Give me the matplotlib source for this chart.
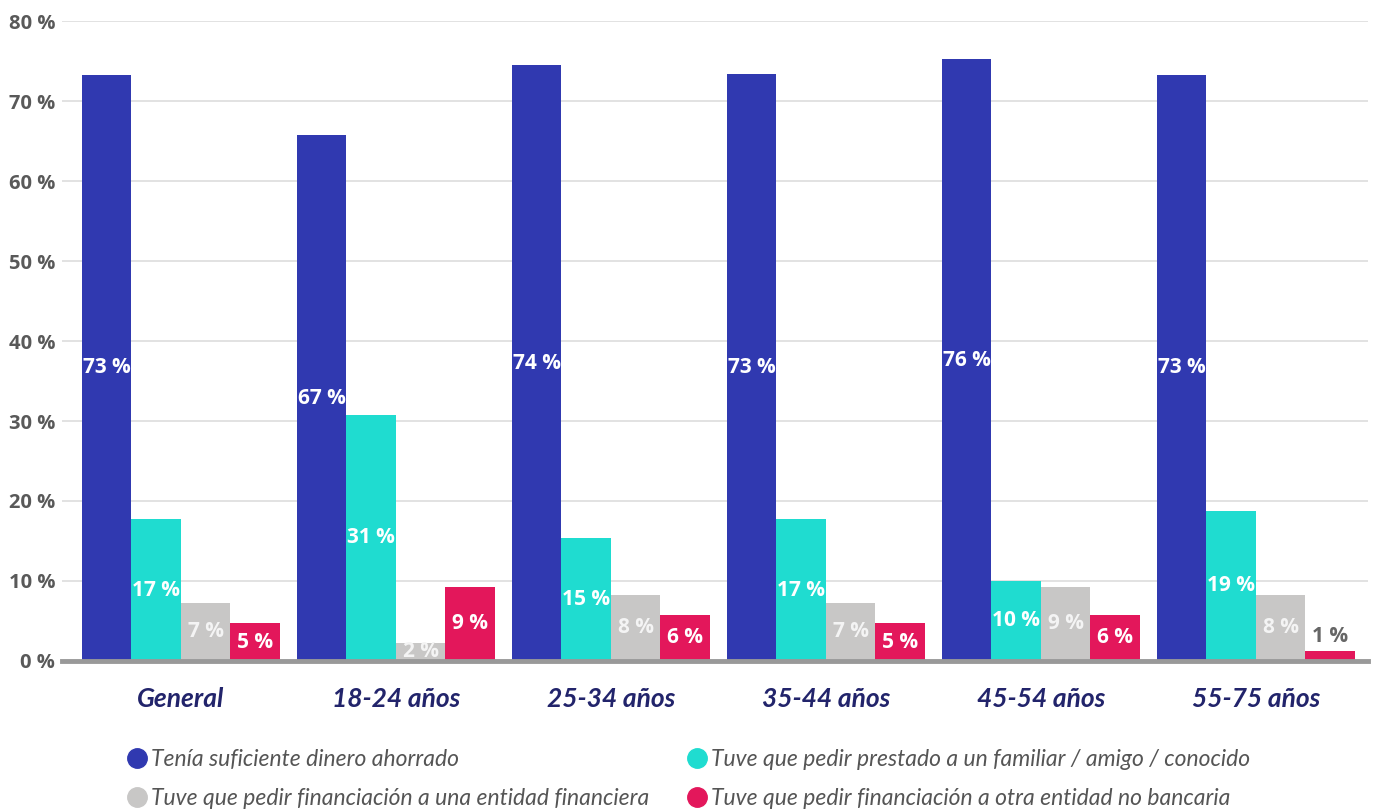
import numpy as np
import matplotlib
matplotlib.use("Agg")
import matplotlib.pyplot as plt
from matplotlib.lines import Line2D

categories = ["General", "18-24 años", "25-34 años", "35-44 años", "45-54 años", "55-75 años"]
series_names = [
    "Tenía suficiente dinero ahorrado",
    "Tuve que pedir prestado a un familiar / amigo / conocido",
    "Tuve que pedir financiación a una entidad financiera",
    "Tuve que pedir financiación a otra entidad no bancaria",
]
ahorrado = [73.3, 65.7, 74.5, 73.4, 75.2, 73.3]
familiar = [17.7, 30.8, 15.4, 17.7, 10.0, 18.8]
entidad = [7.3, 2.3, 8.3, 7.3, 9.3, 8.3]
no_bancaria = [4.7, 9.3, 5.8, 4.7, 5.8, 1.2]
labels_ahorrado = [73, 67, 74, 73, 76, 73]
labels_familiar = [17, 31, 15, 17, 10, 19]
labels_entidad = [7, 2, 8, 7, 9, 8]
labels_no_bancaria = [5, 9, 6, 5, 6, 1]
yticks = [0, 10, 20, 30, 40, 50, 60, 70, 80]

colors = ["#3039b0", "#1fdcd0", "#c8c7c6", "#e3175b"]
label_colors = ["white", "white", "#f4f4f4", "white"]

plt.rcParams["font.family"] = ["Open Sans", "DejaVu Sans"]

fig = plt.figure(figsize=(13.83, 8.11), dpi=100)
ax = fig.add_axes([0.0448, 0.185, 0.9442, 0.789])

x = np.arange(len(categories))
w = 0.2302
data = [ahorrado, familiar, entidad, no_bancaria]
labs = [labels_ahorrado, labels_familiar, labels_entidad, labels_no_bancaria]
for k, (vals, lab) in enumerate(zip(data, labs)):
    xs = x + (k - 1.5) * w
    ax.bar(xs, vals, width=w, color=colors[k], zorder=3)
    for xi, v, l in zip(xs, vals, lab):
        if v < 2:
            ax.text(xi, v + 0.6, f"{l} %", ha="center", va="bottom", color="#666666",
                    fontsize=15, fontweight="bold", zorder=4)
        else:
            ax.text(xi, v / 2, f"{l} %", ha="center", va="center", color=label_colors[k],
                    fontsize=15, fontweight="bold", zorder=4)

ax.set_xlim(-0.553, 5.521)
ax.set_ylim(0, 80)
ax.set_yticks(yticks)
ax.set_yticklabels([f"{t} %" for t in yticks], fontsize=14.5, fontweight="bold", color="#595959")
ax.yaxis.grid(True, color="#dddddd", linewidth=1.2, zorder=0)
ax.tick_params(axis="y", length=0, pad=5)
ax.tick_params(axis="x", length=0, pad=19)
ax.set_xticks(x)
ax.set_xticklabels(categories, fontsize=19, style="italic", fontweight="bold",
                   color="#22246b", family="Lato")
for s in ["top", "right", "left"]:
    ax.spines[s].set_visible(False)
ax.spines["bottom"].set_color("#999999")
ax.spines["bottom"].set_linewidth(3.5)
ax.spines["bottom"].set_zorder(5)

order = [0, 2, 1, 3]
handles = [Line2D([], [], marker="o", linestyle="", markersize=14,
                  markerfacecolor=colors[i], markeredgecolor=colors[i]) for i in order]
fig.legend(handles, [series_names[i] for i in order], loc="upper left",
           bbox_to_anchor=(0.0827, 0.091), ncol=2, frameon=False,
           prop={"family": "Lato", "style": "italic", "size": 16.5},
           labelcolor="#555555", handletextpad=0.1, columnspacing=1.6,
           labelspacing=0.8, borderpad=0, handlelength=1.0)

fig.savefig("out.png", dpi=100)
